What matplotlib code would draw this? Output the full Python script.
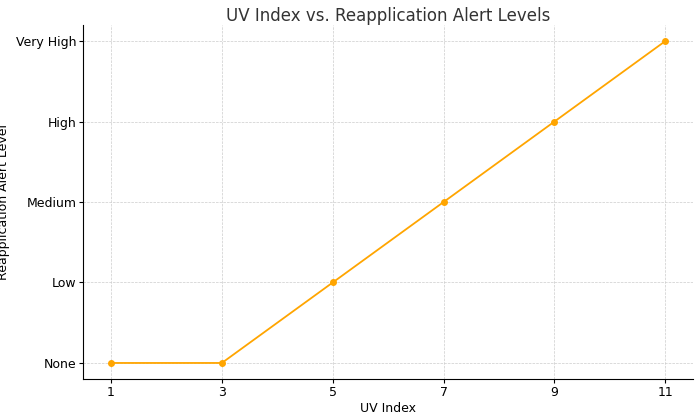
import matplotlib
matplotlib.use("Agg")
import matplotlib.pyplot as plt

uv = [1, 3, 5, 7, 9, 11]
levels = ["None", "Low", "Medium", "High", "Very High"]
alert = [0, 0, 1, 2, 3, 4]

fig, ax = plt.subplots(figsize=(7, 4.17), dpi=100)
ax.plot(uv, alert, color="orange", marker="o", markersize=4, linewidth=1.3)
ax.set_xticks(uv)
ax.set_yticks(range(len(levels)))
ax.set_yticklabels(levels)
ax.set_title("UV Index vs. Reapplication Alert Levels", fontsize=12, color="#333333", pad=3)
ax.set_xlabel("UV Index", fontsize=9, labelpad=2)
ax.set_ylabel("Reapplication Alert Level", fontsize=9, labelpad=4)
ax.tick_params(labelsize=9, length=3, pad=2)
ax.grid(True, linestyle="--", linewidth=0.5, color="#cccccc")
ax.spines["top"].set_visible(False)
ax.spines["right"].set_visible(False)
ax.set_xlim(0.5, 11.5)
ax.set_ylim(-0.2, 4.2)
fig.subplots_adjust(left=0.119, right=0.99, top=0.94, bottom=0.091)
fig.savefig("out.png")
